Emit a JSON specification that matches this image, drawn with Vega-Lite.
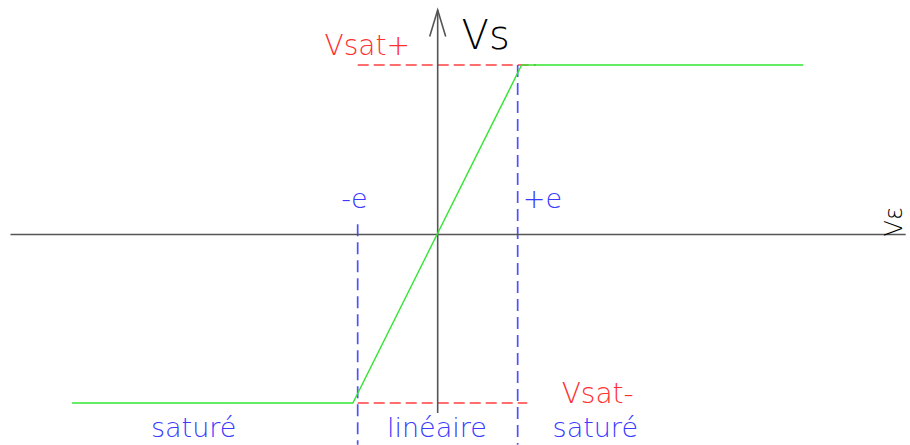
{
  "$schema": "https://vega.github.io/schema/vega-lite/v6.json",
  "width": 910,
  "height": 445,
  "autosize": {"type": "fit", "contains": "padding"},
  "padding": 0,
  "background": "white",
  "config": {"view": {"stroke": null}},
  "encoding": {
    "x": {"field": "u", "type": "quantitative", "scale": {"domain": [-5.471, 5.904], "nice": false, "zero": false}, "axis": null},
    "y": {"field": "v", "type": "quantitative", "scale": {"domain": [-1.2419, 1.3835], "nice": false, "zero": false}, "axis": null}
  },
  "layer": [
    {
      "data": {"values": [
        {"seg": "a", "k": 1, "u": -1.0, "v": 1.0},
        {"seg": "a", "k": 2, "u": 1.23, "v": 1.0},
        {"seg": "b", "k": 1, "u": -1.0, "v": -0.994},
        {"seg": "b", "k": 2, "u": 1.12, "v": -0.994}
      ]},
      "mark": {"type": "line", "color": "#ff4040", "strokeWidth": 1.4, "strokeDash": [11, 5], "clip": true},
      "encoding": {"detail": {"field": "seg"}, "order": {"field": "k"}}
    },
    {
      "data": {"values": [
        {"seg": "a", "k": 1, "u": -1.0, "v": 0.06},
        {"seg": "a", "k": 2, "u": -1.0, "v": -1.24},
        {"seg": "b", "k": 1, "u": 1.0, "v": 1.0},
        {"seg": "b", "k": 2, "u": 1.0, "v": -1.24}
      ]},
      "mark": {"type": "line", "color": "#5050ff", "strokeWidth": 1.7, "strokeDash": [12, 6], "clip": true},
      "encoding": {"detail": {"field": "seg"}, "order": {"field": "k"}}
    },
    {
      "data": {"values": [
        {"seg": "h", "k": 1, "u": -5.34, "v": 0.0},
        {"seg": "h", "k": 2, "u": 5.85, "v": 0.0},
        {"seg": "v", "k": 1, "u": 0.0, "v": -1.053},
        {"seg": "v", "k": 2, "u": 0.0, "v": 1.324},
        {"seg": "w", "k": 1, "u": -0.1, "v": 1.168},
        {"seg": "w", "k": 2, "u": 0.0, "v": 1.324},
        {"seg": "w", "k": 3, "u": 0.1, "v": 1.168}
      ]},
      "mark": {"type": "line", "color": "#555555", "strokeWidth": 1.6, "clip": true},
      "encoding": {"detail": {"field": "seg"}, "order": {"field": "k"}}
    },
    {
      "data": {"values": [
        {"k": 1, "u": -4.57, "v": -0.994},
        {"k": 2, "u": -1.06, "v": -0.994},
        {"k": 3, "u": 1.05, "v": 1.0},
        {"k": 4, "u": 4.57, "v": 1.0}
      ]},
      "mark": {"type": "line", "color": "#33e633", "strokeWidth": 1.4, "clip": true},
      "encoding": {"order": {"field": "k"}}
    },
    {
      "data": {"values": [
        {"label": "Vsat+", "u": -0.88, "v": 1.059},
        {"label": "Vsat-", "u": 2.0, "v": -0.994}
      ]},
      "mark": {"type": "text", "color": "#ff3030", "font": "DejaVu Sans", "fontWeight": 200, "fontSize": 28, "align": "center", "baseline": "alphabetic"},
      "encoding": {"text": {"field": "label"}}
    },
    {
      "data": {"values": [
        {"label": "-e", "u": -1.04, "v": 0.156},
        {"label": "+e", "u": 1.31, "v": 0.156},
        {"label": "saturé", "u": -3.05, "v": -1.195},
        {"label": "linéaire", "u": -0.01, "v": -1.195},
        {"label": "saturé", "u": 1.97, "v": -1.195}
      ]},
      "mark": {"type": "text", "color": "#3a3aff", "font": "DejaVu Sans", "fontWeight": 200, "fontSize": 27, "align": "center", "baseline": "alphabetic"},
      "encoding": {"text": {"field": "label"}}
    },
    {
      "data": {"values": [
        {"label": "Vs", "u": 0.6, "v": 1.094}
      ]},
      "mark": {"type": "text", "color": "#000000", "font": "DejaVu Sans", "fontWeight": 200, "fontSize": 40, "align": "center", "baseline": "alphabetic"},
      "encoding": {"text": {"field": "label"}}
    },
    {
      "data": {"values": [
        {"label": "Vε", "u": 5.72, "v": 0.075}
      ]},
      "mark": {"type": "text", "color": "#000000", "font": "DejaVu Sans", "fontWeight": 200, "fontSize": 24, "align": "center", "baseline": "middle", "angle": 270},
      "encoding": {"text": {"field": "label"}}
    }
  ]
}
